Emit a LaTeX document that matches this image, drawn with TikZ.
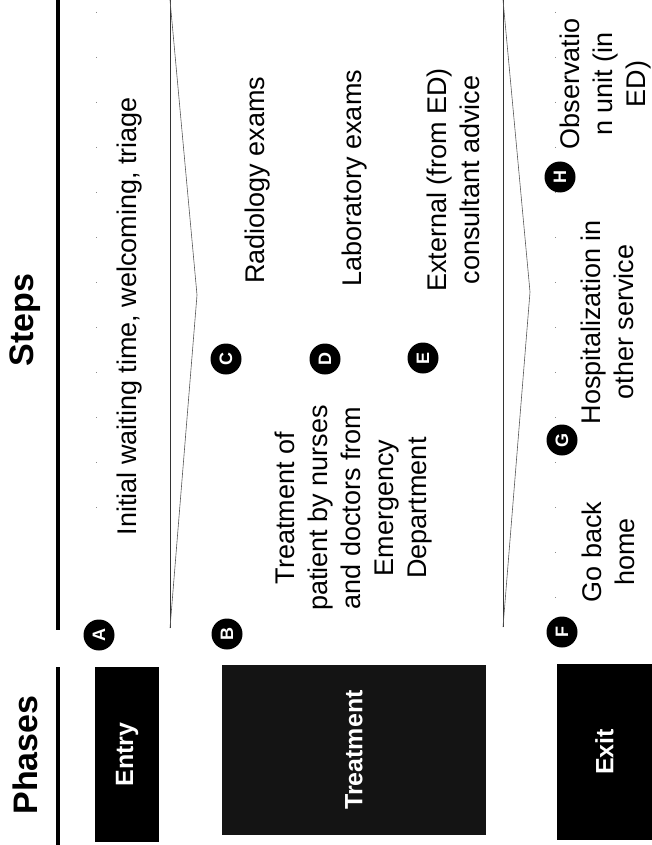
\documentclass[tikz,border=0pt]{standalone}
\usepackage{fontspec}
\setmainfont{Liberation Sans}
\usetikzlibrary{positioning}

\begin{document}
\begin{tikzpicture}[x=1pt,y=-1pt,
    header/.style={rotate=90, font=\fontsize{34}{38}\selectfont\bfseries},
    phasebox/.style={rotate=90, fill=black, text=white, inner sep=0pt,
      font=\fontsize{25}{30}\selectfont\bfseries},
    stepdot/.style={circle, fill=black, text=white, minimum size=31pt, inner sep=0pt,
      rotate=90, font=\fontsize{18}{18}\selectfont\bfseries},
    steptext/.style={rotate=90, align=center, inner sep=0pt,
      font=\fontsize{27}{33}\selectfont},
    rule/.style={line width=4pt},
    sepline/.style={black!80, line width=0.9pt},
    chevron/.style={black!65, line width=0.6pt},
    faint/.style={black!45, line width=0.8pt, dash pattern=on 1pt off 44pt}]
  \useasboundingbox (0,0) rectangle (651,845);

  % Headers and their rules
  \node[header] (hphases) at (25,755) {Phases};
  \node[header] (hsteps) at (25,320) {Steps};
  \draw[rule] (58,667) -- (58,845);
  \draw[rule] (58,0) -- (58,630);

  % Phase boxes
  \node[phasebox, minimum width=175pt, minimum height=64pt] (entry) at (127,754.5) {Entry};
  \node[phasebox, fill=black!92, minimum width=170pt, minimum height=264pt] (treat) at (354,750) {Treatment};
  \node[phasebox, minimum width=176pt, minimum height=95pt] (exit) at (604.5,752) {Exit};

  % Separators between phases
  \draw[sepline] (170,0) -- (170,628);
  \draw[chevron] (170,0) -- (197,295) -- (170,628);
  \draw[sepline] (503,0) -- (503,627);
  \draw[chevron] (503,0) -- (530,292) -- (503,627);

  % Faint text box borders
  \draw[faint] (96,12) -- (96,528);
  \draw[faint] (555,12) -- (555,600);

  % Step markers
  \node[stepdot] (cA) at (99,635) {A};
  \node[stepdot] (cB) at (227,634) {B};
  \node[stepdot] (cC) at (226,359) {C};
  \node[stepdot] (cD) at (325,359) {D};
  \node[stepdot] (cE) at (423,358) {E};
  \node[stepdot] (cF) at (562,632) {F};
  \node[stepdot] (cG) at (562,440) {G};
  \node[stepdot] (cH) at (560,177) {H};

  % Step descriptions
  \node[steptext] (tA) at (130,316) {Initial waiting time, welcoming, triage};
  \node[steptext] (tB) at (354,508) {Treatment of\\patient by nurses\\and doctors from\\Emergency\\Department};
  \node[steptext] (tC) at (258,180) {Radiology exams};
  \node[steptext] (tD) at (355,178) {Laboratory exams};
  \node[steptext] (tE) at (453,180) {External (from ED)\\consultant advice};
  \node[steptext] (tF) at (608,552) {Go back\\home};
  \node[steptext] (tG) at (607,322) {Hospitalization in\\other service};
  \node[steptext] (tH) at (606,84) {Observatio\\n unit (in\\ED)};
\end{tikzpicture}
\end{document}
